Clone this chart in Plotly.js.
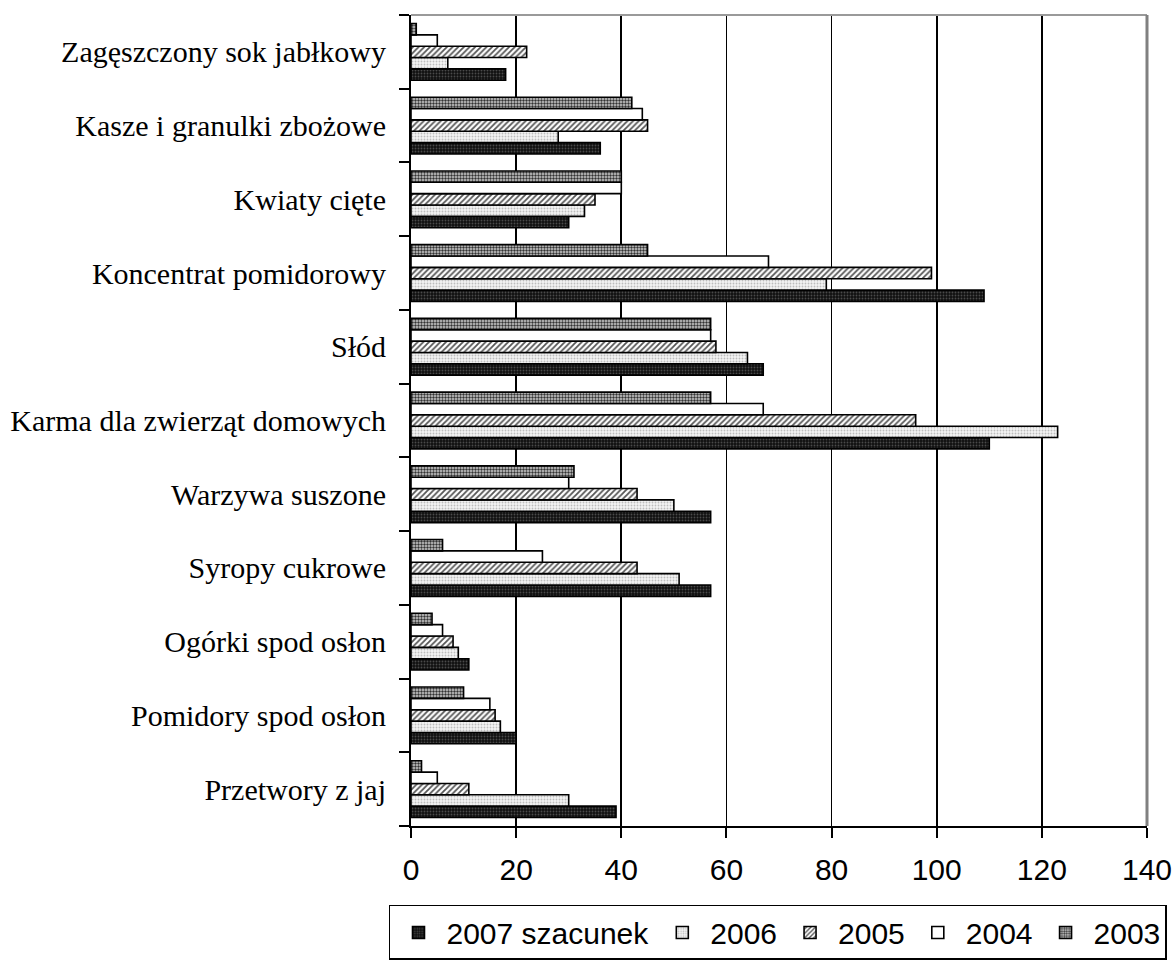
<!DOCTYPE html>
<html>
<head>
<meta charset="utf-8">
<script src="https://cdn.plot.ly/plotly-3.0.1.min.js"></script>
<style>html,body{margin:0;padding:0;background:#fff;}#chart{width:1176px;height:962px;}</style>
</head>
<body>
<div id="chart"></div>
<script>
// Categories bottom to top
const categories = [
  "Przetwory z jaj",
  "Pomidory spod osłon",
  "Ogórki spod osłon",
  "Syropy cukrowe",
  "Warzywa suszone",
  "Karma dla zwierząt domowych",
  "Słód",
  "Koncentrat pomidorowy",
  "Kwiaty cięte",
  "Kasze i granulki zbożowe",
  "Zagęszczony sok jabłkowy"
];
const seriesNames = ["2007 szacunek", "2006", "2005", "2004", "2003"];
const v2007 = [39, 20, 11, 57, 57, 110, 67, 109, 30, 36, 18];
const v2006 = [30, 17, 9, 51, 50, 123, 64, 79, 33, 28, 7];
const v2005 = [11, 16, 8, 43, 43, 96, 58, 99, 35, 45, 22];
const v2004 = [5, 15, 6, 25, 30, 67, 57, 68, 40, 44, 5];
const v2003 = [2, 10, 4, 6, 31, 57, 57, 45, 40, 42, 1];
const xTicks = [0, 20, 40, 60, 80, 100, 120, 140];

const styles = [
  {color: "#111111", pattern: {shape: ".", fgcolor: "#4a4a4a", bgcolor: "#101010", size: 3, solidity: 0.3, fillmode: "replace"}},
  {color: "#f2f2f2", pattern: {shape: ".", fgcolor: "#bdbdbd", bgcolor: "#f4f4f4", size: 3, solidity: 0.3, fillmode: "replace"}},
  {color: "#bbbbbb", pattern: {shape: "/", fgcolor: "#555555", bgcolor: "#ffffff", size: 4, solidity: 0.45, fillmode: "replace"}},
  {color: "#ffffff", pattern: {shape: ""}},
  {color: "#999999", pattern: {shape: ".", fgcolor: "#333333", bgcolor: "#d0d0d0", size: 3, solidity: 0.5, fillmode: "replace"}}
];
const values = [v2007, v2006, v2005, v2004, v2003];

const traces = values.map((vals, i) => ({
  type: "bar",
  orientation: "h",
  name: seriesNames[i],
  y: categories,
  x: vals,
  marker: {
    color: styles[i].color,
    pattern: styles[i].pattern,
    line: {color: "#000000", width: 1.6}
  },
  hoverinfo: "x+y+name"
}));

const layout = {
  width: 1176,
  height: 962,
  margin: {l: 411, r: 29, t: 15, b: 136, autoexpand: false},
  paper_bgcolor: "#ffffff",
  plot_bgcolor: "#ffffff",
  barmode: "group",
  bargap: 0.23,
  bargroupgap: 0,
  showlegend: true,
  legend: {
    orientation: "h",
    x: -0.0299,
    xanchor: "left",
    y: -0.0974,
    yanchor: "top",
    bordercolor: "#000000",
    borderwidth: 1.5,
    bgcolor: "#ffffff",
    font: {family: "Liberation Sans, Arial, sans-serif", size: 30, color: "#000"},
    traceorder: "normal",
    itemwidth: 46
  },
  xaxis: {
    range: [0, 140],
    tickvals: xTicks,
    ticktext: xTicks.map(String),
    ticks: "outside",
    ticklen: 10,
    tickwidth: 2,
    tickcolor: "#000",
    showline: true,
    linecolor: "#000",
    linewidth: 2,
    showgrid: true,
    gridcolor: "#000",
    gridwidth: 1.6,
    zeroline: false,
    ticklabelstandoff: 6,
    tickfont: {family: "Liberation Sans, Arial, sans-serif", size: 30, color: "#000"},
    fixedrange: true
  },
  yaxis: {
    type: "category",
    categoryorder: "array",
    categoryarray: categories,
    tickson: "boundaries",
    ticks: "outside",
    ticklen: 10,
    tickwidth: 2,
    tickcolor: "#000",
    showline: true,
    linecolor: "#000",
    linewidth: 2,
    showgrid: false,
    zeroline: false,
    ticklabelstandoff: 17,
    tickfont: {family: "Liberation Serif, Times New Roman, serif", size: 30, color: "#000"},
    fixedrange: true
  },
  shapes: [
    {type: "line", xref: "paper", yref: "paper", x0: 0, x1: 1, y0: 1, y1: 1, line: {color: "#9a9a9a", width: 2}, layer: "above"},
    {type: "line", xref: "paper", yref: "paper", x0: 1, x1: 1, y0: 0, y1: 1, line: {color: "#808080", width: 3}, layer: "above"}
  ]
};

Plotly.newPlot("chart", traces, layout, {displayModeBar: false, staticPlot: true});
</script>
</body>
</html>
